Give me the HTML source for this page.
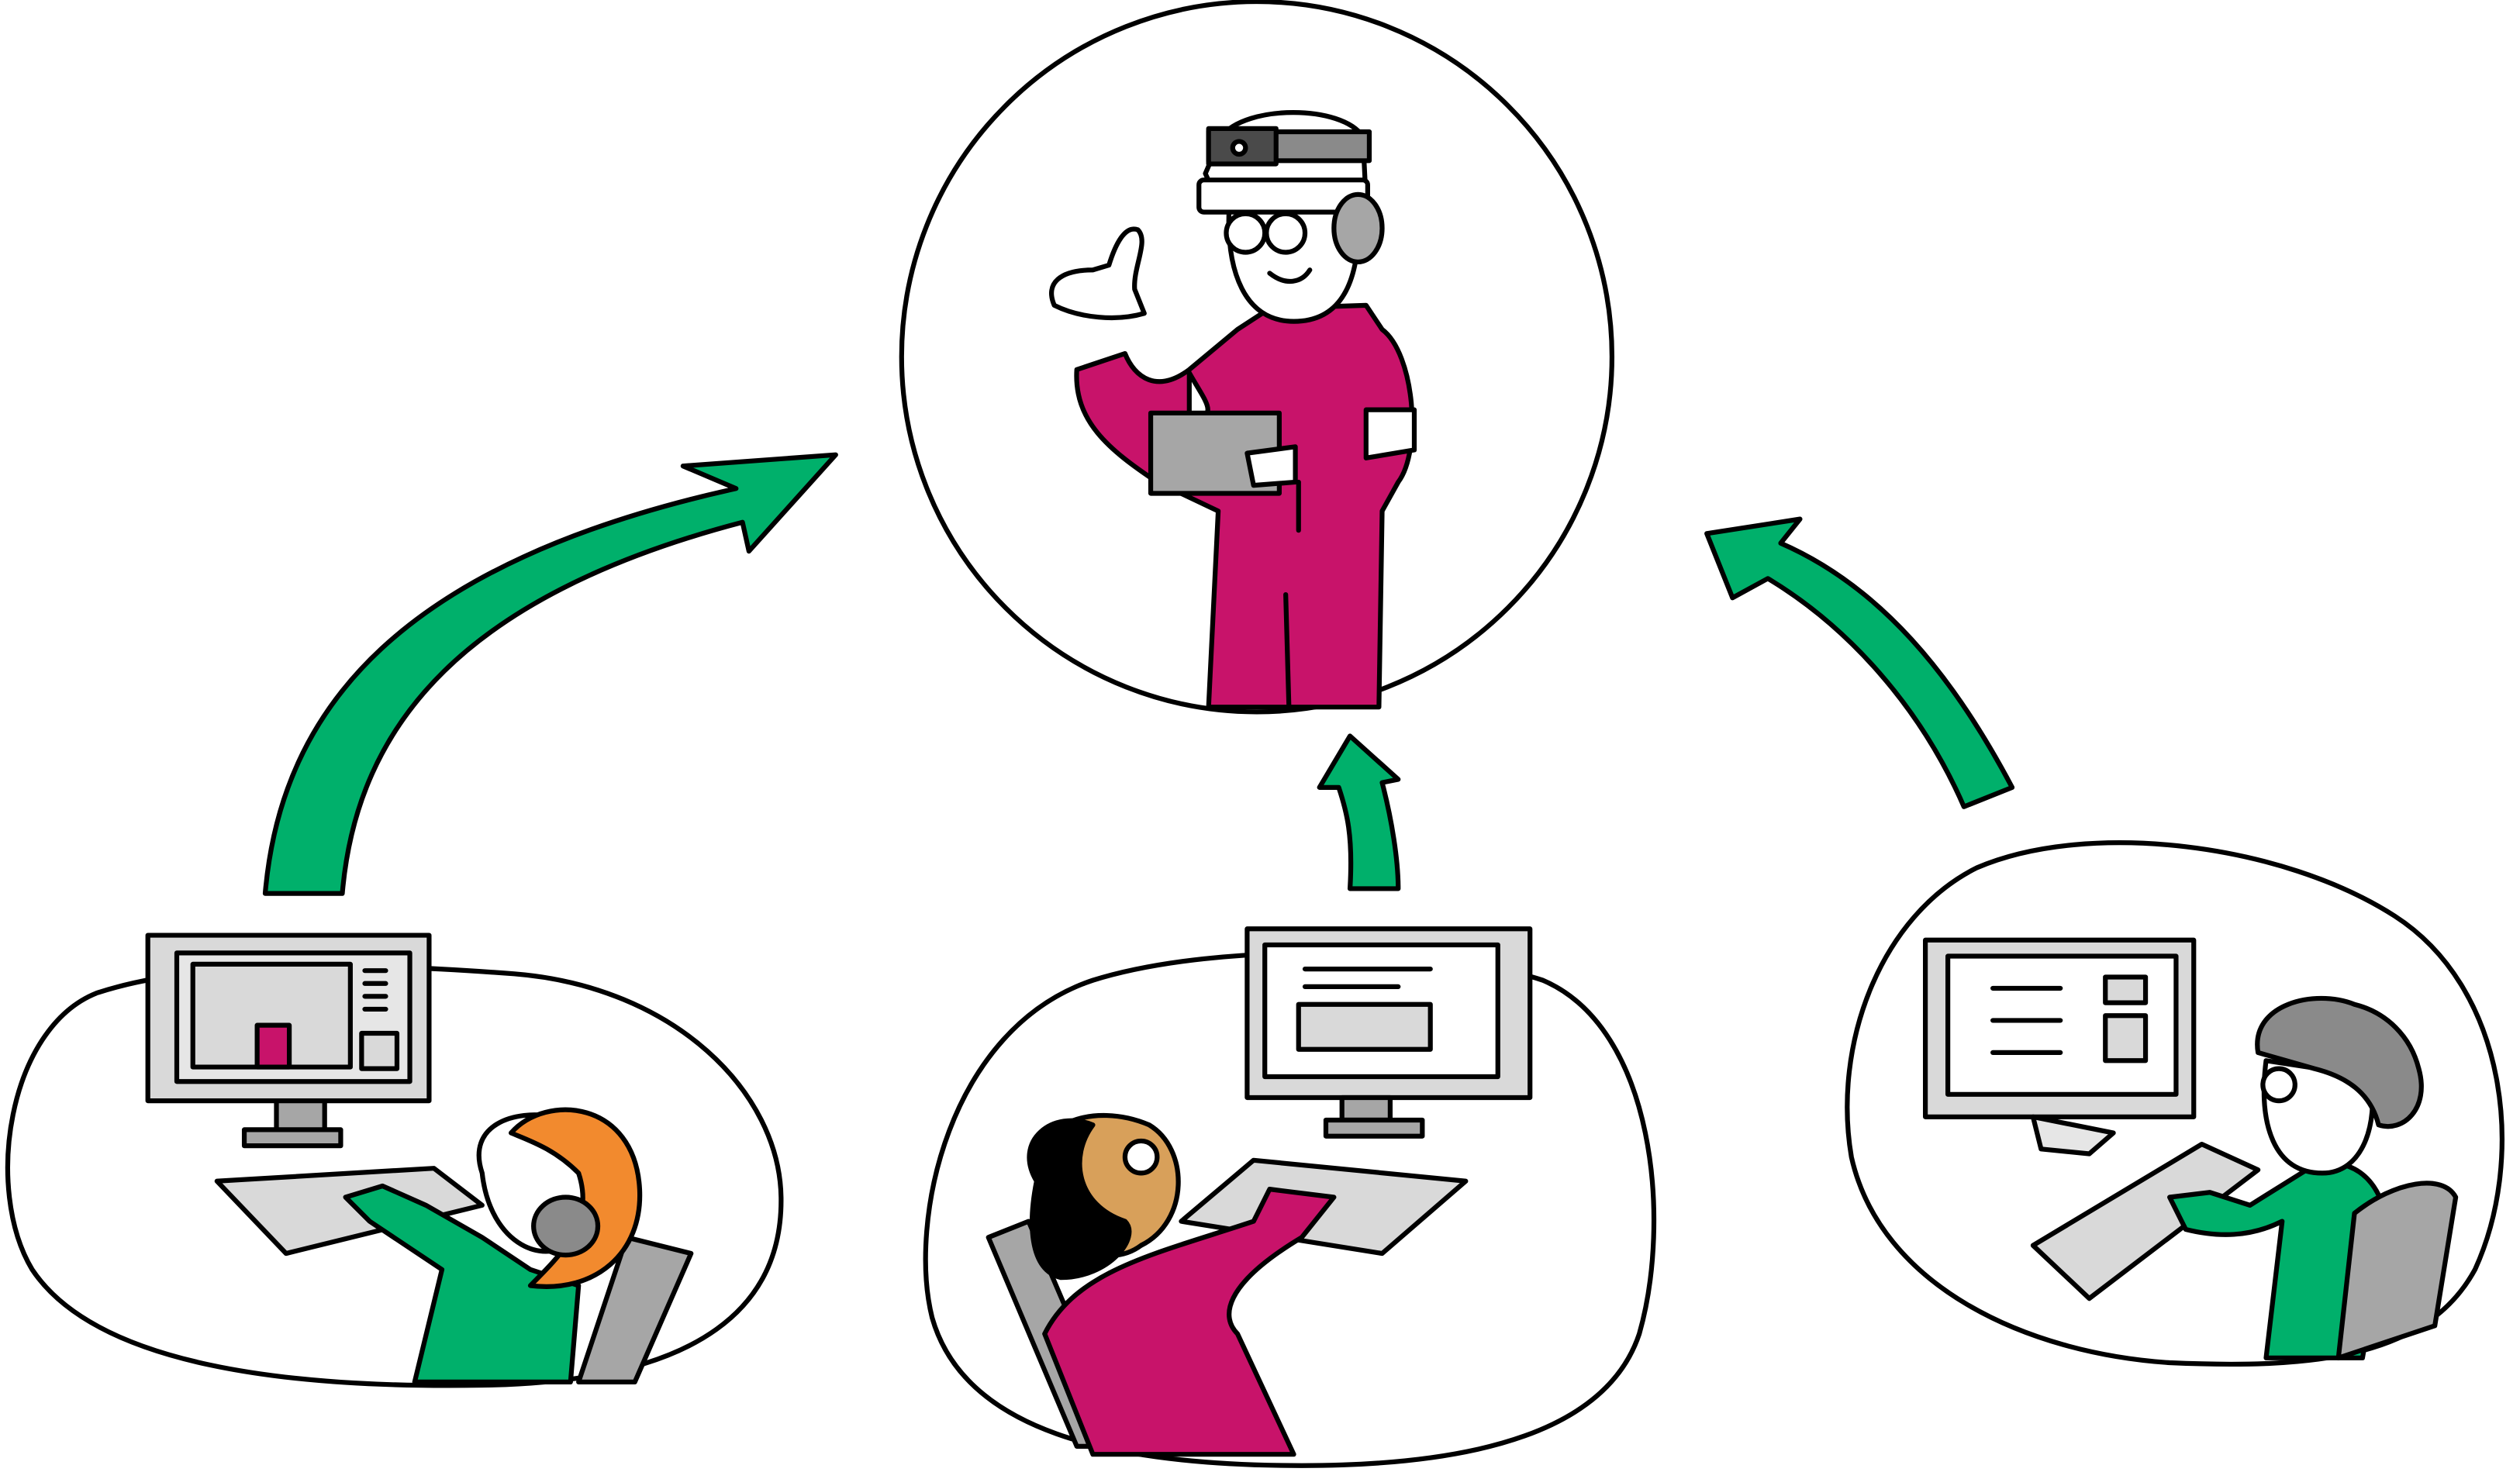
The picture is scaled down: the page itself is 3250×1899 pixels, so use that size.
<!DOCTYPE html>
<html><head><meta charset="utf-8"><style>
html,body{margin:0;padding:0;background:#fff;width:3250px;height:1899px;overflow:hidden}
svg{display:block}
</style></head><body>
<svg width="3250" height="1899" viewBox="0 0 1568 916" preserveAspectRatio="none" xmlns="http://www.w3.org/2000/svg">
<g stroke="#000" stroke-width="3" stroke-linejoin="round" stroke-linecap="round">
<circle cx="782" cy="222" r="221" fill="#fff"/>
<path d="M60,618 C130,595 240,600 320,606 C420,614 485,680 486,745 C487,810 440,860 300,862 C180,864 60,850 20,790 C-10,740 5,640 60,618 Z" fill="#fff"/>
<path d="M680,610 C760,585 900,590 960,610 C1030,640 1040,760 1020,830 C1000,890 920,912 810,912 C690,912 600,890 580,820 C565,760 590,640 680,610 Z" fill="#fff"/>
<path d="M1230,540 C1300,510 1420,525 1490,570 C1560,615 1572,720 1540,790 C1510,845 1440,852 1350,848 C1260,842 1170,800 1152,720 C1140,650 1170,570 1230,540 Z" fill="#fff"/>

<path d="M165,556 C175,440 250,350 458,304 L425,290 L520,283 L466,343 L462,325 C290,370 222,450 213,556 Z" fill="#00b06b"/>
<path d="M840,553 C842,520 838,505 833,490 L821,490 L840,458 L870,485 L860,487 C866,510 870,535 870,553 Z" fill="#00b06b"/>
<path d="M1222,502 C1195,440 1150,390 1100,360 L1078,372 L1062,332 L1120,323 L1108,338 C1170,365 1215,420 1252,490 Z" fill="#00b06b"/>

<path d="M752,440 L758,318 L720,300 C690,280 668,262 670,230 L700,220 C706,235 720,245 740,230 L770,205 L790,192 L850,190 L860,205 C880,220 885,280 870,300 L860,318 L858,440 Z" fill="#c8136a"/>
<path d="M740,232 C750,250 760,260 740,260 Z" fill="#fff"/>
<path d="M850,255 L880,255 L880,280 L850,285 Z" fill="#fff"/>
<path d="M800,370 L802,440 M808,300 L808,330" fill="none"/>
<rect x="716" y="257" width="80" height="50" fill="#a6a6a6"/>
<path d="M776,282 L806,278 L806,300 L780,302 Z" fill="#fff"/>
<path d="M656,190 C650,176 660,168 680,168 L690,165 C694,152 700,140 708,143 C715,150 705,166 706,180 L712,195 C695,200 672,198 656,190 Z" fill="#fff"/>
<path d="M765,125 C762,170 775,200 805,200 C835,200 848,175 845,125 Z" fill="#fff"/>
<path d="M750,108 L760,85 C775,65 835,65 848,85 L850,125 L760,130 Z" fill="#fff"/>
<rect x="752" y="82" width="100" height="18" fill="#8a8a8a"/>
<rect x="752" y="80" width="42" height="22" fill="#4a4a4a"/>
<circle cx="771" cy="92" r="4" fill="#fff"/>
<rect x="746" y="112" width="105" height="20" rx="3" fill="#fff"/>
<ellipse cx="845" cy="142" rx="15" ry="21" fill="#a6a6a6"/>
<circle cx="775" cy="145" r="12" fill="#fff"/><circle cx="800" cy="145" r="12" fill="#fff"/>
<path d="M790,170 C800,178 810,176 815,168" fill="none"/>

<rect x="92" y="582" width="175" height="103" fill="#d9d9d9"/>
<rect x="110" y="593" width="145" height="80" fill="#e6e6e6"/>
<rect x="120" y="600" width="98" height="64" fill="#d9d9d9"/>
<rect x="160" y="638" width="20" height="26" fill="#c8136a"/>
<rect x="225" y="643" width="22" height="22" fill="#d9d9d9"/>
<rect x="172" y="685" width="30" height="20" fill="#a6a6a6"/>
<rect x="152" y="703" width="60" height="10" fill="#a6a6a6"/>
<path d="M135,735 L270,727 L300,750 L178,780 Z" fill="#d9d9d9"/>
<path d="M258,860 L275,790 L230,760 L215,745 L238,738 L265,750 L300,770 L330,790 L360,800 L355,860 Z" fill="#00b06b"/>
<path d="M360,860 L390,770 L430,780 L395,860 Z" fill="#a6a6a6"/>
<path d="M300,730 C290,700 320,690 345,695 C375,700 375,740 360,770 C340,790 305,775 300,730 Z" fill="#fff"/>
<path d="M318,705 C340,680 395,685 398,740 C400,780 370,805 330,800 C350,780 370,760 360,730 C345,715 330,710 318,705 Z" fill="#f28a2e"/>
<ellipse cx="352" cy="763" rx="20" ry="18" fill="#8a8a8a"/>

<rect x="776" y="578" width="176" height="105" fill="#d9d9d9"/>
<rect x="787" y="588" width="145" height="82" fill="#fff"/>
<rect x="808" y="625" width="82" height="28" fill="#d9d9d9"/>
<rect x="835" y="683" width="30" height="14" fill="#a6a6a6"/>
<rect x="825" y="697" width="60" height="10" fill="#a6a6a6"/>
<path d="M780,722 L912,735 L860,780 L735,760 Z" fill="#d9d9d9"/>
<path d="M615,770 L640,760 L700,900 L670,900 Z" fill="#a6a6a6"/>
<path d="M650,830 C670,790 720,780 780,760 L790,740 L830,745 L810,770 C760,800 760,820 770,830 L805,905 L680,905 Z" fill="#c8136a"/>
<path d="M650,730 C640,700 680,685 715,700 C740,715 740,760 710,775 C690,790 650,780 650,730 Z" fill="#d8a05a"/>
<path d="M645,735 C630,710 655,690 680,700 C665,720 670,750 700,760 C710,770 690,795 660,795 C640,790 640,760 645,735 Z" fill="#000"/>
<circle cx="710" cy="720" r="10" fill="#fff"/>

<rect x="1198" y="585" width="167" height="110" fill="#d9d9d9"/>
<rect x="1212" y="595" width="142" height="86" fill="#fff"/>
<rect x="1310" y="608" width="25" height="16" fill="#d9d9d9"/>
<rect x="1310" y="632" width="25" height="28" fill="#d9d9d9"/>
<path d="M1265,695 L1270,715 L1300,718 L1315,705 Z" fill="#e6e6e6"/>
<path d="M1265,775 L1370,712 L1405,728 L1300,808 Z" fill="#d9d9d9"/>
<path d="M1410,845 L1420,760 C1400,770 1380,770 1360,765 L1350,745 L1375,742 L1400,750 L1440,725 C1460,720 1480,730 1485,760 L1470,845 Z" fill="#00b06b"/>
<path d="M1455,845 L1465,755 C1490,735 1520,730 1528,745 L1515,825 Z" fill="#a6a6a6"/>
<path d="M1410,660 C1405,700 1415,730 1445,730 C1470,730 1480,700 1475,670 Z" fill="#fff"/>
<path d="M1405,655 C1400,625 1440,615 1465,625 C1485,630 1500,645 1505,665 C1512,690 1495,705 1480,700 C1475,680 1460,670 1440,665 Z" fill="#8a8a8a"/>
<circle cx="1418" cy="675" r="10" fill="#fff"/>
</g>
<g stroke="#000" stroke-width="3" stroke-linecap="round">
<path d="M227,604 L240,604 M227,612 L240,612 M227,620 L240,620 M227,628 L240,628"/>
<path d="M812,603 L890,603 M812,614 L870,614"/>
<path d="M1240,615 L1282,615 M1240,635 L1282,635 M1240,655 L1282,655"/>
</g>
</svg>
</body></html>
